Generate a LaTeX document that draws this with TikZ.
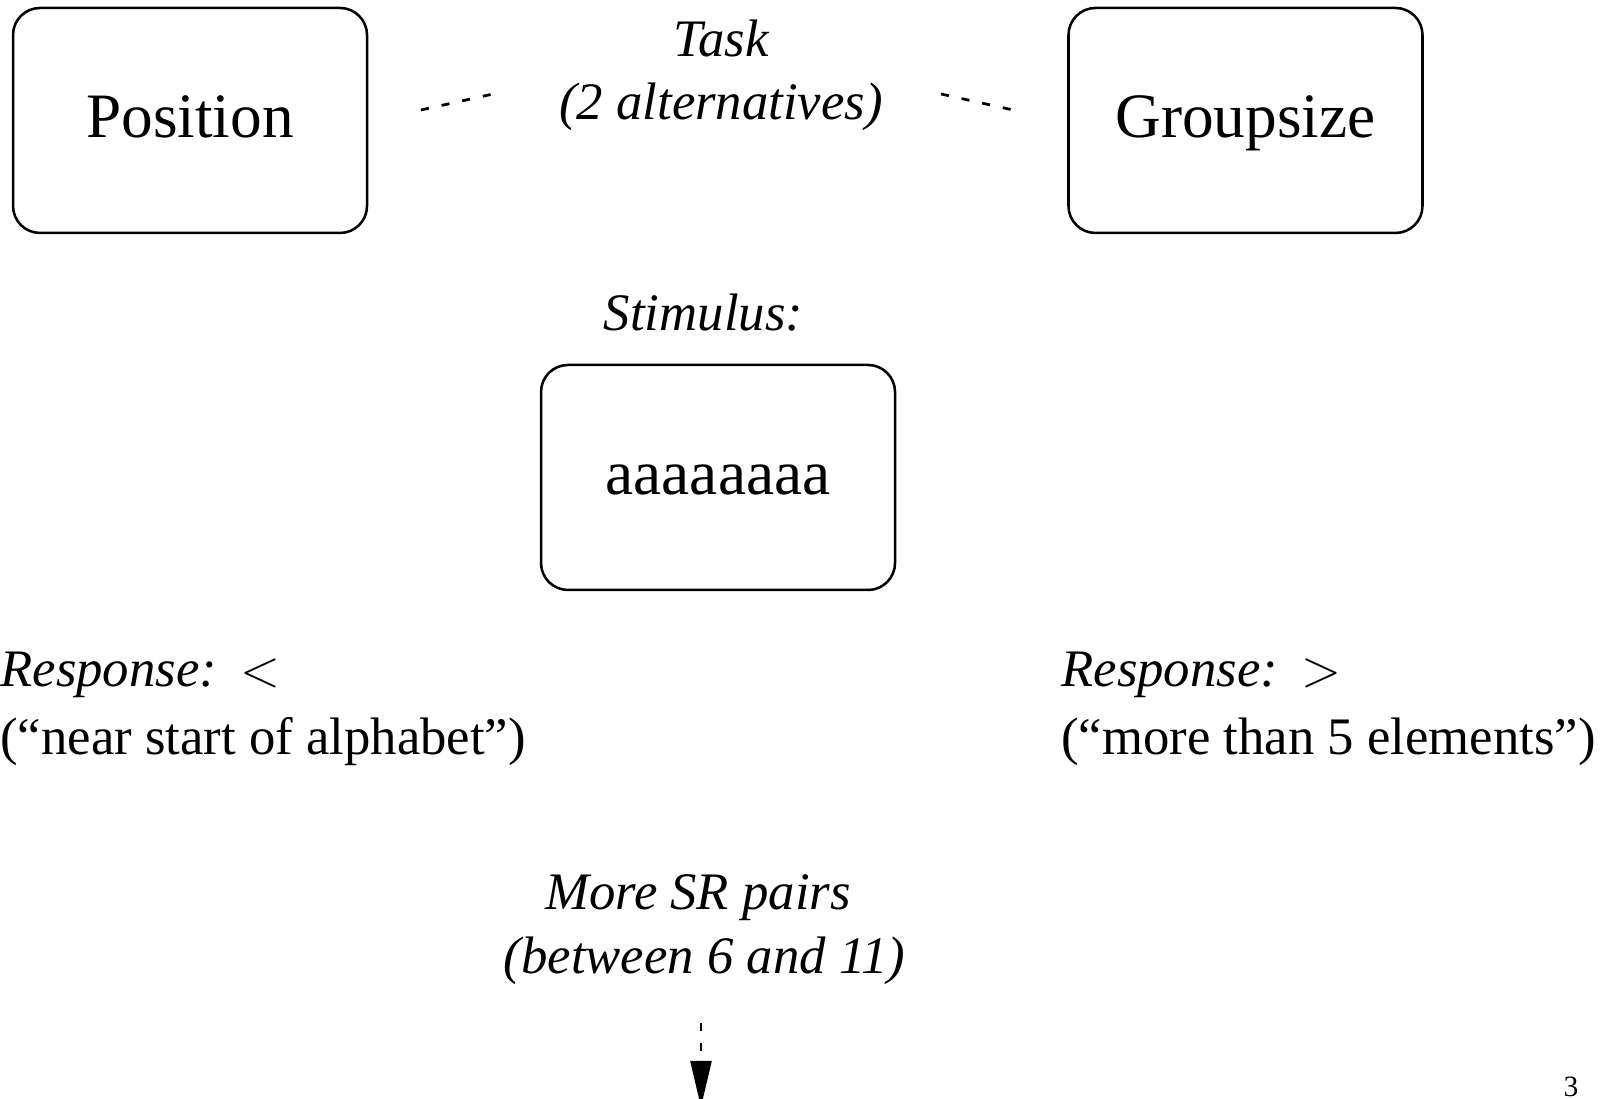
\documentclass[tikz,border=0pt]{standalone}
\usepackage{fontspec}
\setmainfont{Liberation Serif}
\usetikzlibrary{arrows.meta}

\begin{document}
\begin{tikzpicture}[
    box/.style={draw, line width=1.2pt, rounded corners=0.45cm, minimum width=5.9cm, minimum height=3.75cm, font=\fontsize{30}{36}\selectfont, text height=16.5pt, text depth=0pt},
    lbl/.style={anchor=base, inner sep=0pt, font=\fontsize{25}{30}\selectfont},
    note/.style={lbl, font=\fontsize{25}{30}\selectfont\itshape},
    conn/.style={line width=1.3pt, dash pattern=on 3.8pt off 6.2pt},
  ]
    \useasboundingbox (0,0) rectangle (27,18.3);

    % the two tasks
    \node [box] (position) at (3.167,16.292) {Position};
    \node [box] (groupsize) at (20.758,16.292) {Groupsize};
    \node [note] (task) at (12.017,17.35) {Task};
    \node [note] (taskalt) at (12.017,16.3) {(2 alternatives)};
    \coordinate (lefta) at (7.017,16.467);
    \coordinate (leftb) at (8.217,16.733);
    \coordinate (righta) at (15.683,16.733);
    \coordinate (rightb) at (16.883,16.467);
    \draw [conn] (lefta) -- (leftb);
    \draw [conn] (righta) -- (rightb);

    % stimulus
    \node [note] (stimlabel) at (11.725,12.79) {Stimulus:};
    \node [box] (stimulus) at (11.967,10.342) {aaaaaaaa};

    % responses
    \node [note, anchor=base west] (respleft) at (0,6.85) {Response:\hspace{0.45em}$<$};
    \node [lbl, anchor=base west] (respleftalt) at (0,5.733) {(“near start of alphabet”)};
    \node [note, anchor=base west] (respright) at (17.683,6.85) {Response:\hspace{0.45em}$>$};
    \node [lbl, anchor=base west] (resprightalt) at (17.683,5.733) {(“more than 5 elements”)};

    % more pairs
    \node [note] (more) at (11.633,3.15) {More SR pairs};
    \node [note] (morealt) at (11.743,2.083) {(between 6 and 11)};
    \coordinate (arrowtop) at (11.683,1.25);
    \coordinate (arrowend) at (11.683,-0.15);
    \draw [line width=1.3pt, dash pattern=on 3.8pt off 5.7pt, -{Triangle[length=0.77cm, width=0.35cm]}] (arrowtop) -- (arrowend);

    \node [lbl, font=\fontsize{14}{17}\selectfont] (page) at (26.183,0.03) {3};
\end{tikzpicture}
\end{document}
